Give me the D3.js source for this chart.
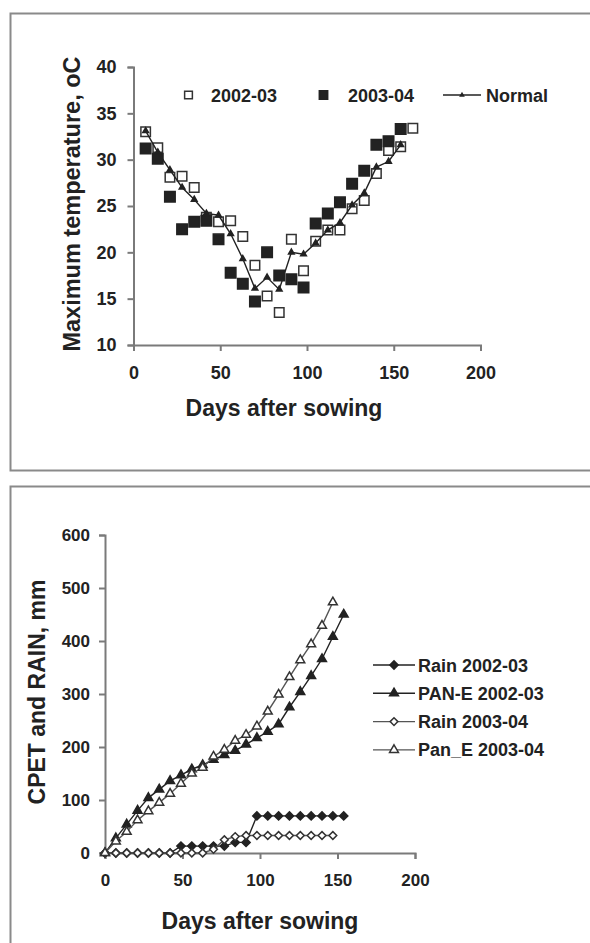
<!DOCTYPE html>
<html>
<head>
<meta charset="utf-8">
<script src="https://cdn.jsdelivr.net/npm/d3@7"></script>
<style>
  body { margin: 0; background: #fff; }
  text { font-family: "Liberation Sans", Arial, sans-serif; font-weight: bold; fill: #222; }
</style>
</head>
<body>
<div id="chart"></div>
<script>
// top panel: maximum temperature
const tempDays = [7, 14, 21, 28, 35, 42, 49, 56, 63, 70, 77, 84, 91, 98, 105, 112, 119, 126, 133, 140, 147, 154, 161];
const temp2002 = [33.0, 31.3, 28.1, 28.2, 27.0, 23.8, 23.3, 23.4, 21.7, 18.6, 15.3, 13.5, 21.4, 18.0, 21.2, 22.4, 22.4, 24.7, 25.6, 28.5, 31.0, 31.4, 33.4];
const temp2003 = [31.2, 30.1, 26.0, 22.5, 23.3, 23.4, 21.4, 17.8, 16.6, 14.7, 20.0, 17.5, 17.1, 16.2, 23.1, 24.2, 25.4, 27.4, 28.8, 31.6, 32.0, 33.3];
const tempNormal = [33.1, 30.8, 28.9, 27.0, 25.7, 24.2, 24.0, 22.0, 19.3, 16.1, 17.3, 16.0, 20.0, 19.8, 21.0, 22.4, 23.2, 25.1, 26.4, 29.2, 29.8, 31.6];
const tempTicks = [10, 15, 20, 25, 30, 35, 40];

// bottom panel: cumulative pan evaporation and rain
const cumDays = [0, 7, 14, 21, 28, 35, 42, 49, 56, 63, 70, 77, 84, 91, 98, 105, 112, 119, 126, 133, 140, 147, 154];
const rain2002 = [0, 0, 0, 0, 0, 0, 0, 13, 13, 13, 13, 13, 20, 20, 70, 70, 70, 70, 70, 70, 70, 70, 70];
const pan2002 = [0, 28, 54, 80, 104, 120, 136, 147, 158, 166, 176, 185, 193, 205, 217, 229, 243, 275, 304, 334, 366, 408, 450];
const rain2003 = [0, 0, 0, 0, 0, 0, 0, 0, 0, 0, 7, 25, 31, 33, 33, 33, 33, 33, 33, 33, 33, 33];
const pan2003 = [0, 22, 40, 62, 79, 95, 112, 131, 150, 161, 182, 195, 212, 223, 239, 267, 299, 332, 364, 394, 429, 473];
const cumTicks = [0, 100, 200, 300, 400, 500, 600];
const dayTicks = [0, 50, 100, 150, 200];

const width = 590;
const height = 943;
const ink = '#222';
const axisColor = '#7a7a7a';

const svg = d3.select('#chart')
    .append('svg')
    .attr('width', width)
    .attr('height', height)
    .attr('viewBox', [0, 0, width, height]);

// panel frames
svg.append('rect')
    .attr('x', 10.5).attr('y', 13.5)
    .attr('width', 600).attr('height', 457)
    .attr('fill', 'none').attr('stroke', '#8a8a8a').attr('stroke-width', 2);
svg.append('rect')
    .attr('x', 10.5).attr('y', 486.5)
    .attr('width', 600).attr('height', 500)
    .attr('fill', 'none').attr('stroke', '#8a8a8a').attr('stroke-width', 2);

// diamond as a square turned 45 degrees, like the spreadsheet marker
const diamond = {
    draw(context, size) {
        const r = Math.sqrt(size / 2);
        context.moveTo(0, -r);
        context.lineTo(r, 0);
        context.lineTo(0, r);
        context.lineTo(-r, 0);
        context.closePath();
    }
};

const toPoints = (days, vals) => vals.map((v, i) => ({ day: days[i], v: v }));

const styleAxis = (g, fontSize) => {
    g.select('.domain').attr('stroke', axisColor).attr('stroke-width', 2);
    g.selectAll('.tick line').attr('stroke', axisColor).attr('stroke-width', 2);
    g.selectAll('.tick text')
        .style('font-size', fontSize + 'px')
        .style('font-family', '"Liberation Sans", Arial, sans-serif')
        .style('font-weight', 'bold')
        .attr('fill', ink);
};

const drawAxes = (g, x, y, yTicks, opt) => {
    const gx = g.append('g')
        .attr('transform', `translate(0,${y.range()[0]})`)
        .call(d3.axisBottom(x).tickValues(dayTicks).tickSizeOuter(0)
            .tickSize(6).tickPadding(opt.xPad));
    styleAxis(gx, opt.font);
    const gy = g.append('g')
        .attr('transform', `translate(${x.range()[0]},0)`)
        .call(d3.axisLeft(y).tickValues(yTicks).tickSizeOuter(0)
            .tickSize(6).tickPadding(opt.yPad));
    styleAxis(gy, opt.font);
};

const drawLine = (g, x, y, pts, color) => {
    g.append('path')
        .datum(pts)
        .attr('fill', 'none')
        .attr('stroke', color)
        .attr('stroke-width', 1.4)
        .attr('d', d3.line().x(d => x(d.day)).y(d => y(d.v)));
};

const drawMarks = (g, x, y, pts, type, size, fill, stroke) => {
    g.selectAll(null)
        .data(pts)
        .enter().append('path')
        .attr('transform', d => `translate(${x(d.day)},${y(d.v)})`)
        .attr('d', d3.symbol().type(type).size(size))
        .attr('fill', fill)
        .attr('stroke', stroke)
        .attr('stroke-width', 1.5);
};

// ---------- top chart ----------
const tempChart = svg.append('g');
const x1 = d3.scaleLinear().domain([0, 200]).range([133.5, 480.5]);
const y1 = d3.scaleLinear().domain([10, 40]).range([345, 67]);

drawAxes(tempChart, x1, y1, tempTicks, { font: 18, xPad: 15, yPad: 11 });

drawMarks(tempChart, x1, y1, toPoints(tempDays, temp2002), d3.symbolSquare, 90, '#fff', '#333');
drawMarks(tempChart, x1, y1, toPoints(tempDays, temp2003), d3.symbolSquare, 110, ink, ink);
drawLine(tempChart, x1, y1, toPoints(tempDays, tempNormal), ink);
drawMarks(tempChart, x1, y1, toPoints(tempDays, tempNormal), d3.symbolTriangle, 14, ink, ink);

tempChart.append('text')
    .attr('x', 284).attr('y', 416)
    .attr('text-anchor', 'middle')
    .style('font-size', '23px')
    .text('Days after sowing');

tempChart.append('text')
    .attr('transform', 'translate(80,204) rotate(-90)')
    .attr('text-anchor', 'middle')
    .style('font-size', '23.5px')
    .text('Maximum temperature, oC');

// top legend
const topLegend = tempChart.append('g');
topLegend.append('path')
    .attr('transform', 'translate(188.5,95)')
    .attr('d', d3.symbol().type(d3.symbolSquare).size(60))
    .attr('fill', '#fff').attr('stroke', '#333').attr('stroke-width', 1.5);
topLegend.append('text').attr('x', 211).attr('y', 101.5).style('font-size', '18px').text('2002-03');
topLegend.append('path')
    .attr('transform', 'translate(323.5,95)')
    .attr('d', d3.symbol().type(d3.symbolSquare).size(70))
    .attr('fill', ink).attr('stroke', ink).attr('stroke-width', 1.5);
topLegend.append('text').attr('x', 348).attr('y', 101.5).style('font-size', '18px').text('2003-04');
topLegend.append('line')
    .attr('x1', 443).attr('x2', 481).attr('y1', 95).attr('y2', 95)
    .attr('stroke', ink).attr('stroke-width', 1.4);
topLegend.append('path')
    .attr('transform', 'translate(462,95)')
    .attr('d', d3.symbol().type(d3.symbolTriangle).size(14))
    .attr('fill', ink);
topLegend.append('text').attr('x', 486).attr('y', 101.5).style('font-size', '18px').text('Normal');

// ---------- bottom chart ----------
const cumChart = svg.append('g');
const x2 = d3.scaleLinear().domain([0, 200]).range([105, 415]);
const y2 = d3.scaleLinear().domain([0, 600]).range([853, 535]);

drawAxes(cumChart, x2, y2, cumTicks, { font: 17, xPad: 15, yPad: 9 });

const series = [
    { name: 'Rain 2002-03', vals: rain2002, type: diamond, size: 34, fill: ink, stroke: ink, line: ink },
    { name: 'PAN-E 2002-03', vals: pan2002, type: d3.symbolTriangle, size: 34, fill: ink, stroke: ink, line: ink },
    { name: 'Rain 2003-04', vals: rain2003, type: diamond, size: 30, fill: '#fff', stroke: '#333', line: '#555' },
    { name: 'Pan_E 2003-04', vals: pan2003, type: d3.symbolTriangle, size: 34, fill: '#fff', stroke: '#333', line: '#555' }
];

// series order as in the spreadsheet: later ones sit on top
series.forEach(s => {
    const pts = toPoints(cumDays, s.vals);
    drawLine(cumChart, x2, y2, pts, s.line);
    drawMarks(cumChart, x2, y2, pts, s.type, s.size, s.fill, s.stroke);
});

cumChart.append('text')
    .attr('x', 260).attr('y', 929)
    .attr('text-anchor', 'middle')
    .style('font-size', '23px')
    .text('Days after sowing');

cumChart.append('text')
    .attr('transform', 'translate(45,692) rotate(-90)')
    .attr('text-anchor', 'middle')
    .style('font-size', '23px')
    .text('CPET and RAIN, mm');

// bottom legend
const legend2 = cumChart.append('g')
    .selectAll('g')
    .data(series)
    .enter().append('g')
    .attr('transform', (d, i) => `translate(0,${665 + i * 28.3})`);

legend2.append('line')
    .attr('x1', 373).attr('x2', 415).attr('y1', 0).attr('y2', 0)
    .attr('stroke', d => d.line).attr('stroke-width', 1.4);
legend2.append('path')
    .attr('transform', 'translate(394,0)')
    .attr('d', d => d3.symbol().type(d.type).size(d.size)())
    .attr('fill', d => d.fill)
    .attr('stroke', d => d.stroke)
    .attr('stroke-width', 1.5);
legend2.append('text')
    .attr('x', 418)
    .attr('y', 6.5)
    .style('font-size', '18px')
    .text(d => d.name);
</script>
</body>
</html>
